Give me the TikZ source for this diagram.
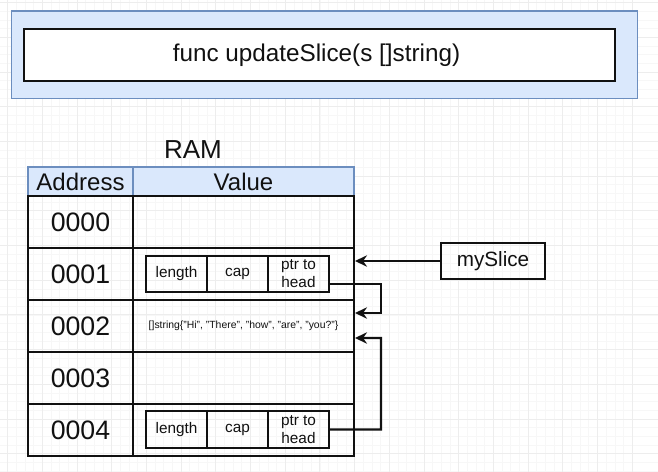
\documentclass[tikz,border=0pt]{standalone}
\usepackage{fontspec}
\setmainfont{Liberation Sans}
\usetikzlibrary{arrows.meta,calc}
\definecolor{hdrfill}{HTML}{DAE8FC}
\definecolor{hdrline}{HTML}{6C8EBF}
\definecolor{ink}{HTML}{111111}
\definecolor{gridmajor}{HTML}{EDEDED}
\definecolor{gridminor}{HTML}{F7F7F7}
\begin{document}
\begin{tikzpicture}[x=0.75pt,y=-0.75pt,
  box/.style 2 args={rectangle,inner sep=0pt,minimum width=#1*0.75pt,minimum height=#2*0.75pt},
  tablecell/.style={draw=ink,line width=1.5pt,text=ink},
  hdrcell/.style={draw=hdrline,fill=hdrfill,line width=1pt,text=ink,font=\fontsize{18}{20}\selectfont},
  addrtext/.style={font=\fontsize{20}{22}\selectfont},
  field/.style={draw=ink,line width=1.1pt,text=ink,align=center,
    font=\fontsize{11.5}{13}\selectfont},
  ptrline/.style={draw=ink,line width=1.7pt,-{Stealth[length=9pt,width=8.5pt]}}
]
\useasboundingbox (0,0) rectangle (658,472);
\fill[white] (0,0) rectangle (658,472);

% faint drawing-canvas grid
\foreach \gx in {0,...,75}
  \draw[gridminor,line width=0.5pt] ({7.6-34.7+8.675*\gx},0) -- ({7.6-34.7+8.675*\gx},472);
\foreach \gy in {0,...,55}
  \draw[gridminor,line width=0.5pt] (0,{2.6+8.675*\gy}) -- (658,{2.6+8.675*\gy});
\foreach \gx in {0,...,18}
  \draw[gridmajor,line width=0.7pt] ({7.6+34.7*\gx},0) -- ({7.6+34.7*\gx},472);
\foreach \gy in {0,...,13}
  \draw[gridmajor,line width=0.7pt] (0,{2.6+34.7*\gy}) -- (658,{2.6+34.7*\gy});

% function signature banner
\node[box={625.6}{87.3},draw=hdrline,fill=hdrfill,line width=1pt] (frame) at (324.5,54.7) {};
\node[box={590.7}{52},draw=ink,fill=white,line width=1.5pt] (func) at (319.7,55) {};
\node[text=ink,font=\fontsize{18.2}{21}\selectfont] (functext) at (316.5,55) {func updateSlice(s []string)};

% RAM table
\node[text=ink,font=\fontsize{19.5}{22}\selectfont] (ram) at (193,150) {RAM};
\node[box={105}{29},hdrcell] (haddr) at (80.5,181.5) {Address};
\node[box={221}{29},hdrcell] (hval) at (243.5,181.5) {Value};

\foreach \i/\y in {0/222.2,1/274.2,2/326.3,3/378.3,4/430.3} {
  \node[box={105}{52.1},tablecell,addrtext] (a\i) at (80.5,\y) {000\i};
  \node[box={221}{52.1},tablecell] (v\i) at (243.5,\y) {};
}

% slice header stored at 0001
\node[box={61}{36},field] (len1) at (176.5,274) {length};
\node[box={61}{36},field] (cap1) at (237.5,274) {cap};
\node[box={61}{36},field,font=\fontsize{11.5}{13.5}\selectfont] (ptr1) at (298.5,274) {ptr to\\head};

% backing array at 0002
\node[text=ink,font=\fontsize{7.8}{9}\selectfont] (arr) at (243.5,326.3) {[]string\{"Hi", "There", "how", "are", "you?"\}};

% copied slice header at 0004
\node[box={61}{37},field] (len4) at (176.5,429.5) {length};
\node[box={61}{37},field] (cap4) at (237.5,429.5) {cap};
\node[box={61}{37},field,font=\fontsize{11.5}{13.5}\selectfont] (ptr4) at (298.5,429.5) {ptr to\\head};

% variable
\node[box={104}{36},draw=ink,line width=1.1pt,text=ink,
  font=\fontsize{15.5}{18}\selectfont] (ms) at (493,261) {mySlice};

% pointers
\draw[ptrline] (ms.west) -- (v1.east |- ms.west);
\coordinate (p1out) at ($(ptr1.east)+(0,10)$);
\coordinate (t1) at ($(v2.east)+(0,-13.3)$);
\draw[ptrline] (p1out) -- (381,284) -- (381,313) -- (t1);
\coordinate (p4out) at (ptr4.east);
\coordinate (t4) at ($(v2.east)+(0,11.7)$);
\draw[ptrline] (p4out) -- (381,429.5) -- (381,338) -- (t4);
\end{tikzpicture}
\end{document}
